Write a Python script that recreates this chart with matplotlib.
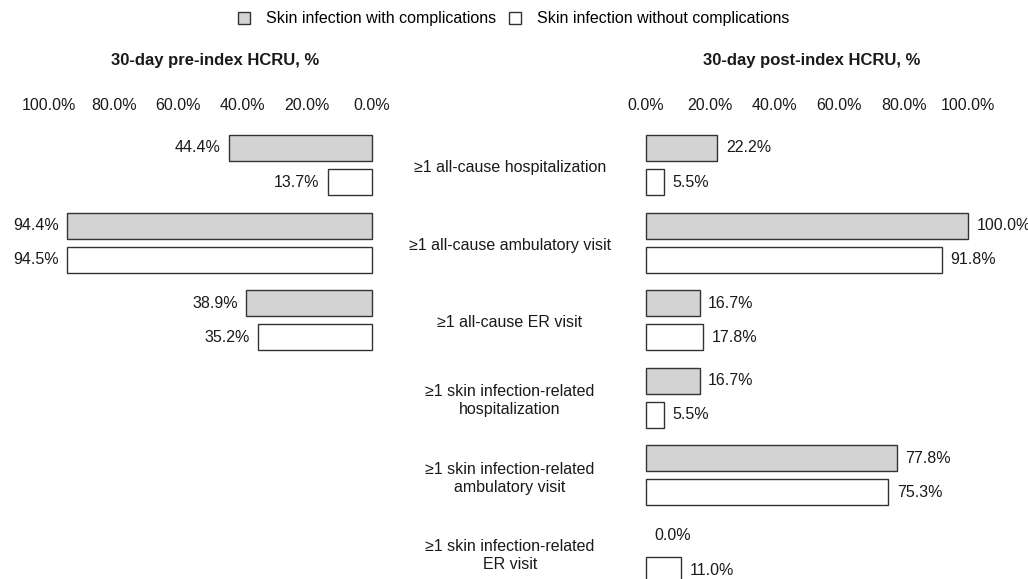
import numpy as np
import matplotlib.pyplot as plt
import matplotlib.transforms as mtransforms
from matplotlib.patches import Patch

plt.rcParams['font.family'] = ['Liberation Sans', 'DejaVu Sans']

# -----------------------------
# Data
# -----------------------------
categories = [
    "≥1 all-cause hospitalization",
    "≥1 all-cause ambulatory visit",
    "≥1 all-cause ER visit",
    "≥1 skin infection-related\nhospitalization",
    "≥1 skin infection-related\nambulatory visit",
    "≥1 skin infection-related\nER visit",
]
series_names = ["Skin infection with complications", "Skin infection without complications"]

pre_with = [44.4, 94.4, 38.9]
pre_without = [13.7, 94.5, 35.2]
post_with = [22.2, 100.0, 16.7, 16.7, 77.8, 0.0]
post_without = [5.5, 91.8, 17.8, 5.5, 75.3, 11.0]

tick_vals = [0, 20, 40, 60, 80, 100]

# -----------------------------
# Layout
# -----------------------------
W, H = 1028, 579
fig = plt.figure(figsize=(W / 100, H / 100), dpi=100)

top_px, bot_px = 120, 579
ax_h = (bot_px - top_px) / H
axL = fig.add_axes([49 / W, 1 - bot_px / H, 323 / W, ax_h])
axR = fig.add_axes([646 / W, 1 - bot_px / H, 322 / W, ax_h])

unit = 77.6
first_center = 165
ylim = ((bot_px - first_center) / unit, (top_px - first_center) / unit)

off = 0.22
bh = 0.335
fill_with = "#d3d3d3"
fill_without = "white"
edge = "#333333"
txt = "#1a1a1a"
fs = 11.5


def draw_panel(ax, v_with, v_without, left):
    y = np.arange(len(v_with))
    for vals, pos, color in [(v_with, y - off, fill_with), (v_without, y + off, fill_without)]:
        lws = [0 if v == 0 else 1.0 for v in vals]
        bars = ax.barh(pos, vals, height=bh, color=color, edgecolor=edge, linewidth=lws)
        for b in bars:
            b.set_clip_on(False)
        for v, p in zip(vals, pos):
            ax.annotate(f"{v:.1f}%", xy=(v, p), xytext=(-6 if left else 6, 0),
                        textcoords="offset points", va="center",
                        ha="right" if left else "left", fontsize=fs, color=txt)
    ax.set_xlim(100, 0) if left else ax.set_xlim(0, 100)
    ax.set_ylim(*ylim)
    ax.xaxis.tick_top()
    ax.set_xticks(tick_vals)
    ax.set_xticklabels([f"{t:.1f}%" for t in tick_vals], fontsize=fs, color=txt)
    ax.tick_params(axis="x", length=0, pad=5)
    ax.set_yticks([])
    for s in ax.spines.values():
        s.set_visible(False)
    ax.patch.set_alpha(0)


draw_panel(axL, pre_with, pre_without, left=True)
draw_panel(axR, post_with, post_without, left=False)

# category labels in the middle
trans = mtransforms.blended_transform_factory(fig.transFigure, axR.transData)
for i, c in enumerate(categories):
    axR.annotate(c, xy=(510 / W, i), xycoords=trans, xytext=(0, -2),
                 textcoords="offset points", ha="center", va="center",
                 fontsize=fs, color=txt, linespacing=1.25, annotation_clip=False)

# panel titles
fig.text(215 / W, 1 - 60 / H, "30-day pre-index HCRU, %",
         ha="center", va="center", fontsize=12, fontweight="bold", color=txt)
fig.text(812 / W, 1 - 60 / H, "30-day post-index HCRU, %",
         ha="center", va="center", fontsize=12, fontweight="bold", color=txt)

# legend
handles = [Patch(facecolor=fill_with, edgecolor=edge, linewidth=1.0),
           Patch(facecolor=fill_without, edgecolor=edge, linewidth=1.0)]
fig.legend(handles, series_names, loc="center", bbox_to_anchor=(0.5, 1 - 19 / H),
           ncol=2, frameon=False, fontsize=fs, handlelength=0.75, handleheight=0.75,
           columnspacing=0.8, handletextpad=1.0)

fig.savefig("out.png", dpi=100)
